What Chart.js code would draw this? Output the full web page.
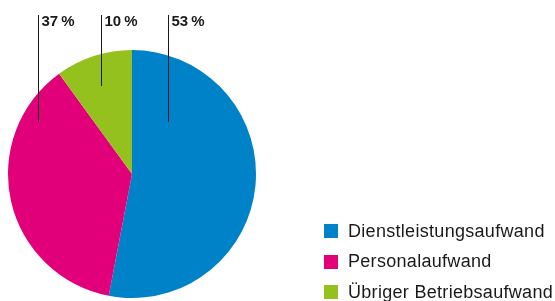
<!DOCTYPE html>
<html>
<head>
<meta charset="utf-8">
<script src="https://cdn.jsdelivr.net/npm/chart.js@4/dist/chart.umd.min.js"></script>
<style>
  html, body { margin: 0; padding: 0; background: #fff; }
  canvas { display: block; }
</style>
</head>
<body>
<canvas id="chartContainer" width="555" height="301"></canvas>
<script>
// chart data
const categories = ['Dienstleistungsaufwand', 'Personalaufwand', 'Übriger Betriebsaufwand'];
const shares = [53, 37, 10];
const shareLabels = ['53\u2009%', '37\u2009%', '10\u2009%'];
const sliceColors = ['#0082c9', '#e2007a', '#95c11f'];

// where the leader line ends inside each slice (fraction of radius from centre)
const leaderEnds = [
    { dx: 0.29, dy: -0.42 },
    { dx: -0.76, dy: -0.42 },
    { dx: -0.25, dy: -0.71 }
];

const labelPlugin = {
    id: 'pieLabels',
    afterDraw(chart) {
        const ctx = chart.ctx;
        const arcs = chart.getDatasetMeta(0).data;
        ctx.save();
        // leader lines + percentages
        arcs.forEach(function(arc, i) {
            const r = arc.outerRadius;
            const x = Math.round(arc.x + leaderEnds[i].dx * r) + 0.5;
            const yEnd = arc.y + leaderEnds[i].dy * r;
            ctx.strokeStyle = '#1a1a1a';
            ctx.lineWidth = 1;
            ctx.beginPath();
            ctx.moveTo(x, 15);
            ctx.lineTo(x, yEnd);
            ctx.stroke();
            ctx.fillStyle = '#1a1a1a';
            ctx.font = 'bold 15px "Liberation Sans", Arial, sans-serif';
            ctx.textBaseline = 'alphabetic';
            ctx.textAlign = 'left';
            ctx.fillText(chart.data.datasets[0].pctLabels[i], x + 3, 26);
        });
        // legend
        ctx.font = '18px "Liberation Sans", Arial, sans-serif';
        ctx.textBaseline = 'middle';
        if ('letterSpacing' in ctx) ctx.letterSpacing = '0.3px';
        chart.data.labels.forEach(function(lbl, i) {
            const cy = 231 + i * 30.5;
            ctx.fillStyle = chart.data.datasets[0].backgroundColor[i];
            ctx.fillRect(324, Math.round(cy - 7), 14, 14);
            ctx.fillStyle = '#1a1a1a';
            ctx.fillText(lbl, 348, cy + 1);
        });
        ctx.restore();
    }
};

var ctx = document.getElementById('chartContainer').getContext('2d');
window.myPie = new Chart(ctx, {
    type: 'pie',
    data: {
        labels: categories,
        datasets: [{
            data: shares,
            pctLabels: shareLabels,
            backgroundColor: sliceColors,
            borderWidth: 0
        }]
    },
    options: {
        responsive: false,
        animation: false,
        layout: {
            padding: { left: 8, right: 299, top: 50, bottom: 3 }
        },
        plugins: {
            legend: { display: false },
            tooltip: { enabled: false }
        }
    },
    plugins: [labelPlugin]
});
</script>
</body>
</html>
